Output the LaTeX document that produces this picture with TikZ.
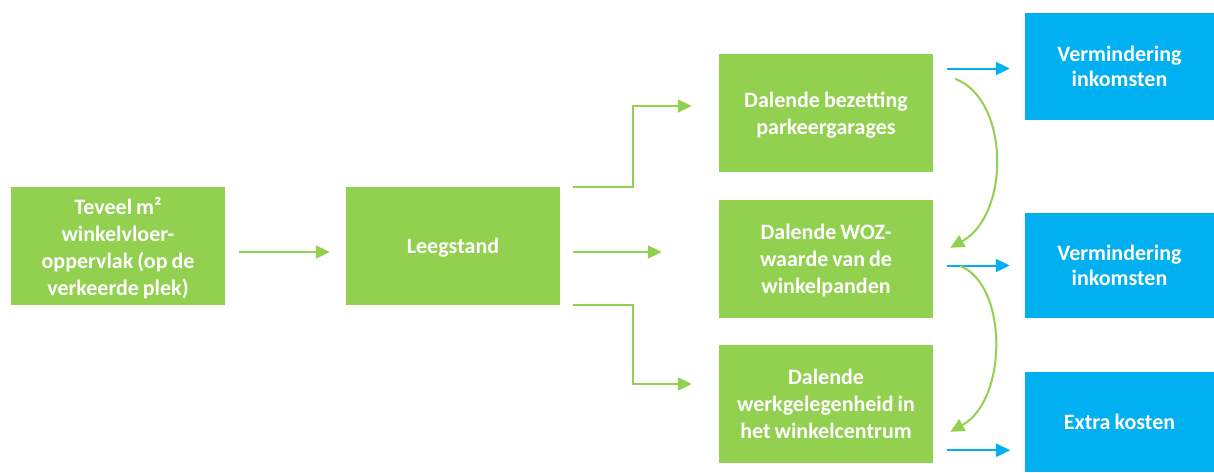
\documentclass[tikz,border=0pt]{standalone}
\usepackage{fontspec}
\setmainfont{Carlito}[WordSpace=0.8]
\usetikzlibrary{arrows.meta,calc}
\definecolor{groen}{HTML}{92D050}
\definecolor{blauw}{HTML}{00B0F0}
\tikzstyle{stap} = [fill=groen, text=white, font=\bfseries\fontsize{22}{27}\selectfont, align=center, inner sep=0pt, text depth=0pt, minimum width=214pt, minimum height=118pt]
\tikzstyle{gevolg} = [fill=blauw, text=white, font=\bfseries\fontsize{22}{25}\selectfont, align=center, inner sep=0pt, text depth=0pt, minimum width=189pt]
\tikzstyle{pijl} = [draw=groen, line width=2pt, -{Triangle[length=14pt,width=13pt]}]
\tikzstyle{blauwpijl} = [draw=blauw, line width=2pt, -{Triangle[length=14pt,width=13pt]}]

\begin{document}
\begin{tikzpicture}[x=1pt, y=-1pt]
    \useasboundingbox (0,0) rectangle (1214,472);
    \node[stap] (teveel) at (118,246) {Teveel m²\\winkelvloer-\\oppervlak (op de\\verkeerde plek)};
    \node[stap] (leeg) at (453,246) {Leegstand};
    \node[stap] (bezet) at (826,113) {Dalende bezetting\\parkeergarages};
    \node[stap] (woz) at (826,259) {Dalende WOZ-\\waarde van de\\winkelpanden};
    \node[stap] (werk) at (826,404) {Dalende\\werkgelegenheid in\\het winkelcentrum};
    \node[gevolg, minimum height=107pt] (ink1) at (1119.5,66.5) {Vermindering\\inkomsten};
    \node[gevolg, minimum height=105pt] (ink2) at (1119.5,265.5) {Vermindering\\inkomsten};
    \node[gevolg, minimum height=100pt] (kosten) at (1119.5,422) {Extra kosten};
    % oorzaken
    \draw[pijl] ($(teveel.east)+(14,6)$) -- ($(leeg.west)+(-16,6)$);
    \draw[pijl] ($(leeg.north east)+(13,0)$) -- ++(60,0) |- ($(bezet.west)+(-27,-7)$);
    \draw[pijl] ($(leeg.east)+(13,6)$) -- ($(woz.west)+(-57,-7)$);
    \draw[pijl] ($(leeg.south east)+(13,0)$) -- ++(60,0) |- ($(werk.west)+(-27,-20)$);
    % gevolgen
    \draw[blauwpijl] ($(bezet.east |- ink1.west)+(14,2)$) -- ($(ink1.west)+(-15,2)$);
    \draw[blauwpijl] ($(woz.east |- ink2.west)+(14,0)$) -- ($(ink2.west)+(-15,0)$);
    \draw[blauwpijl] ($(werk.south east)+(14,-13)$) -- ++(63,0);
    % doorwerking
    \draw[pijl] ($(bezet.north east)+(22,25)$) .. controls (1010,100) and (1010,215) .. ($(woz.north east)+(17,48)$);
    \draw[pijl] ($(woz.east)+(27,7)$) .. controls (1008,285) and (1008,400) .. ($(werk.north east)+(17,87)$);
\end{tikzpicture}
\end{document}
